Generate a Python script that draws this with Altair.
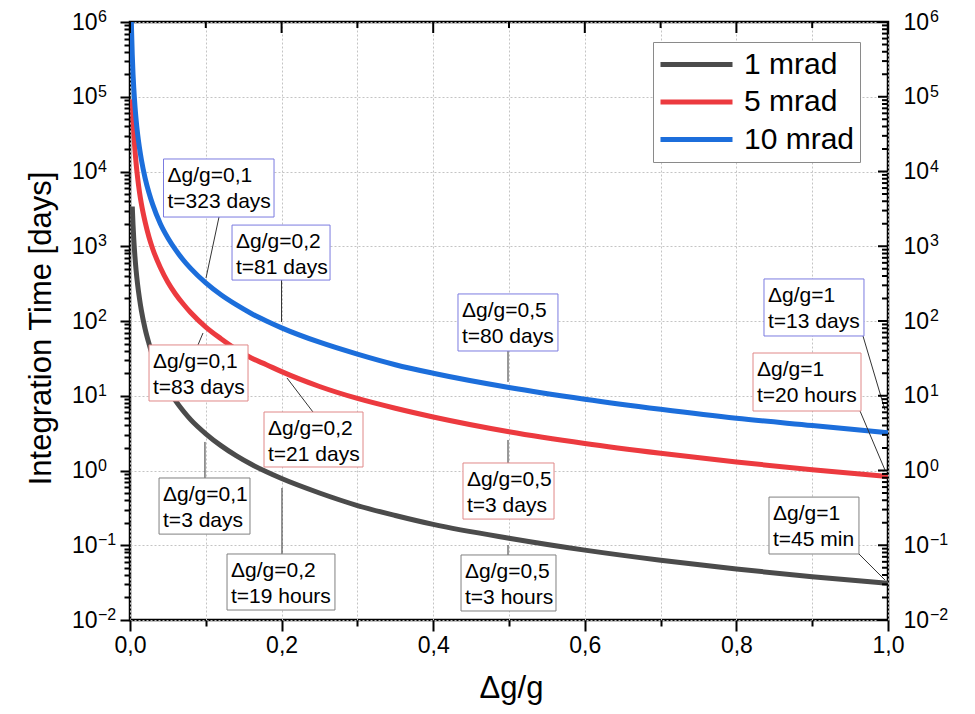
import altair as alt
import pandas as pd

FONT = "Liberation Sans, Arial, Helvetica, sans-serif"

# ---------------- data ----------------
x_grid = [0.001, 0.0015, 0.002, 0.003, 0.004, 0.005, 0.0065, 0.008, 0.01, 0.0125,
          0.015, 0.02, 0.025, 0.03, 0.04, 0.05, 0.06, 0.07, 0.08, 0.1,
          0.12, 0.14, 0.16, 0.18, 0.2, 0.25, 0.3, 0.35, 0.4, 0.5,
          0.6, 0.7, 0.8, 0.9, 1.0]

t_1mrad = [None, None, None, 3.4e3, 1.94e3, 1.24e3, 730, 480, 310, 200,
           138, 78, 50, 34, 19.4, 12.4, 8.6, 6.3, 4.8, 3.1,
           2.15, 1.58, 1.21, 0.96, 0.78, 0.50, 0.34, 0.25, 0.19, 0.124,
           0.086, 0.063, 0.048, 0.038, 0.031]

t_5mrad = [None, None, None, 9.2e4, 5.2e4, 3.3e4, 1.96e4, 1.3e4, 8.3e3, 5.3e3,
           3.7e3, 2.1e3, 1.33e3, 920, 520, 330, 230, 170, 130, 83,
           58, 42, 32, 26, 21, 13.3, 9.2, 6.8, 5.2, 3.3,
           2.3, 1.7, 1.3, 1.02, 0.83]

t_10mrad = [3.2e6, 1.44e6, 8.1e5, 3.6e5, 2.0e5, 1.29e5, 7.6e4, 5.0e4, 3.2e4, 2.07e4,
            1.44e4, 8.1e3, 5.2e3, 3.6e3, 2.0e3, 1.29e3, 900, 660, 505, 323,
            224, 165, 126, 100, 81, 52, 36, 26, 20, 12.9,
            9.0, 6.6, 5.0, 4.0, 3.2]

series_names = ["1 mrad", "5 mrad", "10 mrad"]
series_colors = ["#4b4b4b", "#ec3a3f", "#1c6edb"]

# annotation boxes (data coordinates)
ann_text = ["Δg/g=0,1\nt=323 days", "Δg/g=0,2\nt=81 days", "Δg/g=0,1\nt=83 days",
            "Δg/g=0,2\nt=21 days", "Δg/g=0,1\nt=3 days", "Δg/g=0,2\nt=19 hours",
            "Δg/g=0,5\nt=80 days", "Δg/g=0,5\nt=3 days", "Δg/g=0,5\nt=3 hours",
            "Δg/g=1\nt=13 days", "Δg/g=1\nt=20 hours", "Δg/g=1\nt=45 min"]
ann_edge = ["#7b7be0", "#7b7be0", "#e08888", "#e08888", "#808080", "#808080",
            "#7b7be0", "#e08888", "#808080", "#7b7be0", "#e08888", "#808080"]
box_x1 = [0.0442, 0.1346, 0.0251, 0.1768, 0.0383, 0.1280, 0.4327, 0.4393, 0.4367, 0.8364, 0.8219, 0.8430]
box_x2 = [0.1900, 0.2639, 0.1557, 0.3074, 0.1583, 0.2704, 0.5646, 0.5594, 0.5620, 0.9683, 0.9644, 0.9617]
box_y1 = [1.47e4, 1.92e3, 47.8, 6.06, 0.794, 0.0764, 230, 1.26, 0.0741, 365, 37.3, 0.441]
box_y2 = [2.46e3, 353, 8.51, 1.114, 0.141, 0.0136, 39.7, 0.224, 0.0132, 63, 6.25, 0.0764]
lead_x1 = [0.1174, 0.1999, 0.0897, 0.2071, 0.0989, 0.2005, 0.4987, 0.4987, 0.4987, 0.9670, 0.9631, 0.9617]
lead_y1 = [2.46e3, 353, 47.8, 17.3, 2.41, 0.583, 39.7, 2.56, 0.1007, 63, 6.25, 0.0764]
lead_x2 = [0.1003, 0.1999, 0.0963, 0.2414, 0.0989, 0.2005, 0.4987, 0.4987, 0.4987, 0.9960, 0.9960, 0.9960]
lead_y2 = [376, 97, 69, 6.06, 0.794, 0.0764, 15.3, 1.26, 0.0741, 6.45, 1.016, 0.0343]

# tick values and labels
x_ticks = [0.0, 0.1, 0.2, 0.3, 0.4, 0.5, 0.6, 0.7, 0.8, 0.9, 1.0]
x_major = [0.0, 0.2, 0.4, 0.6, 0.8, 1.0]
x_minor = [0.1, 0.3, 0.5, 0.7, 0.9]
y_major = [1e-2, 1e-1, 1.0, 10.0, 100.0, 1e3, 1e4, 1e5, 1e6]
y_exponents = ["\u22122", "\u22121", "0", "1", "2", "3", "4", "5", "6"]
y_minor = [m * 10.0 ** e for e in range(-2, 6) for m in range(2, 10)]

# ---------------- tables ----------------
rows = []
for name, vals in zip(series_names, [t_1mrad, t_5mrad, t_10mrad]):
    for xv, tv in zip(x_grid, vals):
        if tv is not None:
            rows.append({"x": xv, "t": tv, "series": name})
curves_df = pd.DataFrame(rows)

ann_df = pd.DataFrame({
    "label": ann_text, "edge": ann_edge,
    "bx1": box_x1, "bx2": box_x2, "by1": box_y1, "by2": box_y2,
    "lx1": lead_x1, "ly1": lead_y1, "lx2": lead_x2, "ly2": lead_y2,
})
exp_df = pd.DataFrame({"v": y_major, "e": y_exponents})

X_SCALE = alt.Scale(domain=[0, 1], nice=False, zero=False)
Y_SCALE = alt.Scale(type="log", domain=[0.01, 1e6], nice=False)

MAJ = "abs(log(datum.value)/LN10 - round(log(datum.value)/LN10)) < 0.001"
Y_LABEL = f"({MAJ}) ? '10' : ''"
XMAJ = "round(datum.value*10) % 2 == 0"

x_axis = alt.Axis(
    values=x_ticks,
    labelExpr=f"({XMAJ}) ? replace(format(datum.value, '.1f'), '.', ',') : ''",
    tickSize={"condition": {"test": XMAJ, "value": 11}, "value": 6},
    tickWidth=2, tickColor="black", domain=False,
    grid=True, gridColor="#c4c4c4", gridDash=[2, 2], gridWidth=1,
    labelFont=FONT, labelFontSize=23, labelColor="black", labelPadding=3,
    labelFlush=False, labelOverlap=False,
    title="Δg/g", titleFont=FONT, titleFontSize=31, titleFontWeight="normal",
    titleColor="black", titleX=381, titleY=77, titleBaseline="alphabetic",
    titleAlign="center",
)

y_axis = alt.Axis(
    orient="left",
    values=sorted(y_major + y_minor),
    labelExpr=Y_LABEL,
    tickSize={"condition": {"test": MAJ, "value": 10}, "value": 6},
    tickWidth=2, tickColor="black", domain=False,
    grid=True, gridColor="#c4c4c4", gridDash=[2, 2], gridWidth=1,
    gridOpacity={"condition": {"test": MAJ, "value": 1}, "value": 0},
    labelFont=FONT, labelFontSize=23, labelColor="black", labelPadding=23,
    labelFlush=False, labelOverlap=False,
    title="Integration Time [days]", titleFont=FONT, titleFontSize=31,
    titleFontWeight="normal", titleColor="black", titleAngle=-90,
    titleX=-80, titleY=306, titleAlign="center", titleBaseline="alphabetic",
)

curves = alt.Chart(curves_df).mark_line(strokeWidth=5, clip=True, interpolate="monotone").encode(
    x=alt.X("x:Q", scale=X_SCALE, axis=x_axis),
    y=alt.Y("t:Q", scale=Y_SCALE, axis=y_axis),
    color=alt.Color(
        "series:N",
        scale=alt.Scale(domain=series_names, range=series_colors),
        sort=series_names,
        legend=alt.Legend(
            title=None, orient="none", legendX=523, legendY=20,
            symbolType="stroke", symbolSize=5184, symbolStrokeWidth=5,
            labelFont=FONT, labelFontSize=30, labelColor="black", labelOffset=9,
            clipHeight=35, rowPadding=2.5, padding=5,
            strokeColor="#8a8a8a", fillColor="white",
        ),
    ),
    order=alt.Order("x:Q"),
)

leaders = alt.Chart(ann_df).mark_rule(color="#333333", strokeWidth=1).encode(
    x=alt.X("lx1:Q", scale=X_SCALE, axis=None), x2="lx2:Q",
    y=alt.Y("ly1:Q", scale=Y_SCALE, axis=None), y2="ly2:Q",
)

boxes = alt.Chart(ann_df).mark_rect(fill="white", strokeWidth=1).encode(
    x=alt.X("bx1:Q", scale=X_SCALE, axis=None), x2="bx2:Q",
    y=alt.Y("by1:Q", scale=Y_SCALE, axis=None), y2="by2:Q",
    stroke=alt.Stroke("edge:N", scale=None),
)

texts = alt.Chart(ann_df).mark_text(
    align="left", baseline="alphabetic", dx=4, dy=23, lineBreak="\n",
    lineHeight=26, fontSize=21, font=FONT, color="black",
).encode(
    x=alt.X("bx1:Q", scale=X_SCALE, axis=None),
    y=alt.Y("by1:Q", scale=Y_SCALE, axis=None),
    text="label:N",
)

right_axis = alt.Axis(
    orient="right", values=y_major, labelExpr=Y_LABEL, ticks=False, domain=False,
    grid=False, labelFont=FONT, labelFontSize=23, labelColor="black",
    labelPadding=15, labelFlush=False, labelOverlap=False, title=None,
)

# exponents of the 10^n tick labels (left and right)
left_exp = alt.Chart(exp_df).mark_text(
    align="left", baseline="alphabetic", fontSize=16, font=FONT, color="black", dy=0,
).encode(
    y=alt.Y("v:Q", scale=Y_SCALE, axis=None), x=alt.value(-32), text="e:N",
)
right_exp = alt.Chart(exp_df).mark_text(
    align="left", baseline="alphabetic", fontSize=16, font=FONT, color="black", dy=0,
).encode(
    y=alt.Y("v:Q", scale=Y_SCALE, axis=None), x=alt.value(800), text="e:N",
)

right_major = alt.Chart(pd.DataFrame({"v": y_major})).mark_rule(color="black", strokeWidth=2).encode(
    y=alt.Y("v:Q", scale=Y_SCALE, axis=right_axis),
    x=alt.value(748), x2=alt.value(758),
)
right_minor = alt.Chart(pd.DataFrame({"v": y_minor})).mark_rule(color="black", strokeWidth=2).encode(
    y=alt.Y("v:Q", scale=Y_SCALE, axis=None),
    x=alt.value(752), x2=alt.value(758),
)
top_major = alt.Chart(pd.DataFrame({"v": x_major})).mark_rule(color="black", strokeWidth=2).encode(
    x=alt.X("v:Q", scale=X_SCALE, axis=None),
    y=alt.value(0), y2=alt.value(11),
)
top_minor = alt.Chart(pd.DataFrame({"v": x_minor})).mark_rule(color="black", strokeWidth=2).encode(
    x=alt.X("v:Q", scale=X_SCALE, axis=None),
    y=alt.value(0), y2=alt.value(6),
)

chart = alt.layer(
    curves, leaders, boxes, texts, right_minor, right_major, top_minor, top_major,
    left_exp, right_exp,
).resolve_axis(
    x="independent", y="independent"
).properties(
    width=758, height=598,
    autosize=alt.AutoSizeParams(type="none"),
    padding={"left": 122, "top": 14, "right": 79, "bottom": 92},
    background="white",
).configure_view(
    stroke="black", strokeWidth=2.5
)

chart.save("out.html", embed_options={"renderer": "svg", "actions": False})
